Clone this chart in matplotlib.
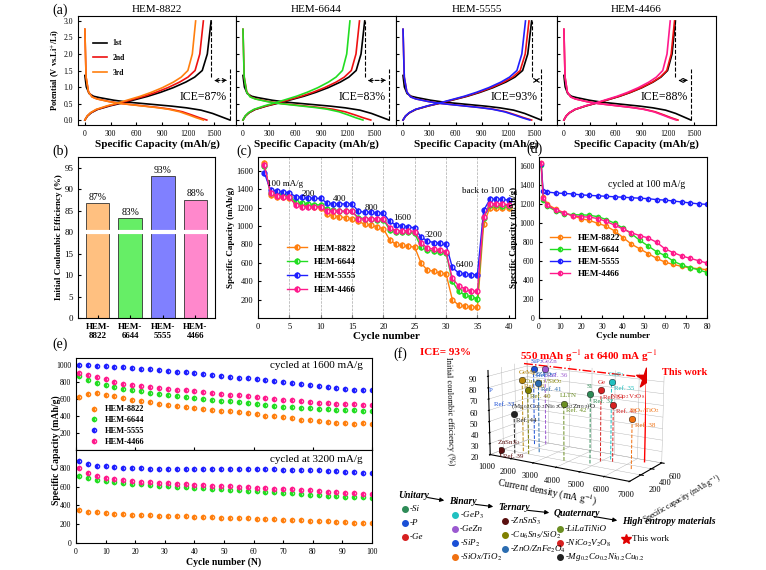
import numpy as np
import matplotlib
matplotlib.use("Agg")
import matplotlib.pyplot as plt

plt.rcParams['font.family'] = ['Liberation Serif', 'DejaVu Serif']
plt.rcParams['font.size'] = 6.5
plt.rcParams['mathtext.fontset'] = 'stix'

W, H = 766, 570
fig = plt.figure(figsize=(7.66, 5.70), dpi=100)
fig.patch.set_facecolor('white')

def rect(x0, y0, x1, y1):
    return [x0 / W, 1 - y1 / H, (x1 - x0) / W, (y1 - y0) / H]

# ---------------- data ----------------
samples = ['HEM-8822', 'HEM-6644', 'HEM-5555', 'HEM-4466']
main_colors = ['#ff7f0e', '#22dd22', '#1f1fff', '#ff1a8c']

# (a) voltage profile shapes (fraction of capacity -> V)
frac_d = [0, 0.01, 0.03, 0.06, 0.1, 0.2, 0.3, 0.4, 0.5, 0.6, 0.7, 0.8, 0.88, 0.94, 1.0]
v_d1 = [1.35, 1.0, 0.8, 0.72, 0.68, 0.6, 0.54, 0.5, 0.46, 0.42, 0.37, 0.3, 0.2, 0.1, 0.0]
v_dn = [2.75, 1.3, 0.85, 0.7, 0.64, 0.56, 0.5, 0.46, 0.42, 0.38, 0.33, 0.25, 0.15, 0.07, 0.0]
frac_c = [0, 0.02, 0.05, 0.1, 0.2, 0.3, 0.4, 0.5, 0.6, 0.7, 0.8, 0.87, 0.93, 0.97, 1.0]
v_c = [0.0, 0.12, 0.22, 0.32, 0.43, 0.52, 0.62, 0.72, 0.84, 0.98, 1.15, 1.3, 1.5, 2.0, 3.0]
cap_dis = {'HEM-8822': [1690, 1420, 1380], 'HEM-6644': [1680, 1470, 1380],
           'HEM-5555': [1580, 1470, 1450], 'HEM-4466': [1470, 1320, 1300]}
cap_chg = {'HEM-8822': [1470, 1380, 1290], 'HEM-6644': [1400, 1340, 1230],
           'HEM-5555': [1470, 1440, 1400], 'HEM-4466': [1290, 1280, 1230]}
ice_text = ['ICE=87%', 'ICE=83%', 'ICE=93%', 'ICE=88%']
cycle_labels = ['1st', '2nd', '3rd']

# (b)
ice_vals = [86.8, 83.3, 93.0, 87.5]
ice_pct = ['87%', '83%', '93%', '88%']
bar_colors = ['#ffc080', '#66ee66', '#8080ff', '#ff88cc']

# (c) rate performance
rate_cycles = list(range(1, 41))
rate = {
 'HEM-8822': [1680, 1340, 1320, 1310, 1300, 1250, 1230, 1220, 1210, 1200, 1130, 1110, 1100, 1090, 1080,
              1050, 1020, 1010, 990, 970, 850, 800, 790, 780, 770, 600, 520, 510, 490, 480,
              200, 140, 130, 120, 115, 1020, 1200, 1200, 1200, 1200],
 'HEM-6644': [1650, 1360, 1350, 1340, 1330, 1260, 1250, 1240, 1230, 1230, 1180, 1170, 1160, 1160, 1160,
              1090, 1080, 1080, 1070, 1070, 960, 940, 940, 930, 920, 770, 740, 730, 720, 710,
              400, 290, 250, 230, 210, 1090, 1230, 1230, 1220, 1220],
 'HEM-5555': [1580, 1390, 1380, 1370, 1360, 1320, 1310, 1300, 1300, 1300, 1250, 1240, 1240, 1240, 1240,
              1160, 1150, 1150, 1140, 1140, 1050, 1010, 1000, 990, 980, 880, 840, 820, 810, 800,
              550, 490, 480, 470, 470, 1170, 1290, 1290, 1290, 1280],
 'HEM-4466': [1660, 1360, 1330, 1320, 1310, 1230, 1210, 1210, 1210, 1210, 1160, 1160, 1160, 1160, 1160,
              1080, 1080, 1080, 1080, 1080, 980, 950, 950, 950, 940, 820, 760, 750, 740, 720,
              430, 350, 320, 290, 290, 1100, 1240, 1240, 1240, 1230],
}
rate_labels = ['100 mA/g', '200', '400', '800', '1600', '3200', '6400', 'back to 100']
rate_label_pos = [(1.5, 1440), (7, 1330), (12, 1270), (17, 1170), (21.5, 1060), (26.5, 880), (31.5, 550), (32.5, 1360)]

# (d) cycling at 100 mA/g
d_cycles = [1, 2, 4, 8, 12, 16, 20, 24, 28, 32, 36, 40, 44, 48, 52, 56, 60, 64, 68, 72, 76, 80]
d_vals = {
 'HEM-8822': [1640, 1280, 1200, 1150, 1110, 1080, 1050, 1030, 1000, 970, 920, 850, 780, 730, 680, 630, 590, 565, 545, 530, 520, 510],
 'HEM-6644': [1620, 1250, 1180, 1130, 1100, 1090, 1090, 1085, 1070, 1040, 1000, 950, 890, 820, 760, 700, 660, 600, 560, 530, 510, 480],
 'HEM-5555': [1630, 1340, 1330, 1320, 1315, 1310, 1300, 1295, 1290, 1285, 1280, 1275, 1270, 1265, 1260, 1250, 1245, 1235, 1225, 1215, 1205, 1200],
 'HEM-4466': [1640, 1270, 1190, 1140, 1110, 1080, 1070, 1065, 1050, 1020, 980, 940, 900, 870, 845, 800, 730, 690, 655, 630, 605, 580],
}

# (e) long cycling
e_cycles = list(range(1, 101, 3))
e_top = {
 'HEM-8822': [620, 660, 665, 650, 630, 610, 590, 575, 560, 545, 530, 515, 500, 490, 480, 470, 460, 455, 445, 435, 420, 405, 395, 385, 370, 355, 350, 340, 330, 320, 315, 305, 315, 310],
 'HEM-6644': [870, 820, 790, 760, 735, 715, 700, 690, 675, 660, 645, 630, 620, 610, 600, 590, 580, 570, 560, 550, 540, 530, 520, 510, 505, 495, 490, 485, 480, 475, 470, 465, 460, 460],
 'HEM-5555': [1000, 995, 990, 985, 975, 970, 965, 955, 950, 940, 930, 920, 910, 900, 890, 880, 870, 860, 850, 840, 830, 820, 810, 795, 785, 775, 765, 750, 740, 730, 720, 710, 700, 700],
 'HEM-4466': [900, 880, 860, 830, 800, 780, 765, 750, 740, 730, 720, 710, 700, 690, 680, 670, 660, 650, 640, 630, 620, 610, 600, 590, 585, 575, 565, 555, 550, 545, 540, 535, 530, 530],
}
e_bot = {
 'HEM-8822': [350, 335, 325, 315, 310, 305, 300, 298, 295, 292, 290, 287, 284, 280, 277, 274, 271, 268, 265, 262, 258, 255, 252, 249, 245, 242, 239, 235, 230, 225, 220, 215, 212, 210],
 'HEM-6644': [710, 690, 675, 660, 650, 640, 632, 625, 618, 612, 605, 600, 595, 590, 585, 578, 572, 567, 562, 558, 552, 545, 540, 535, 528, 522, 515, 510, 505, 500, 495, 490, 485, 480],
 'HEM-5555': [870, 840, 825, 815, 805, 800, 797, 795, 793, 792, 790, 790, 789, 789, 788, 788, 787, 787, 786, 786, 785, 784, 783, 782, 780, 778, 775, 772, 768, 764, 760, 755, 750, 748],
 'HEM-4466': [800, 740, 715, 695, 680, 668, 660, 652, 646, 640, 635, 631, 627, 622, 617, 612, 607, 603, 598, 594, 590, 585, 580, 575, 570, 565, 560, 553, 546, 540, 535, 530, 525, 522],
}

# (f) 3D comparison
f_names = ['P', 'SiP$_2$', 'GeZn', 'GeMg', 'ZZFO', 'Cu$_6$Sn$_5$/SiO$_2$',
           '(Mg$_{0.2}$Co$_{0.2}$Ni$_{0.2}$Cu$_{0.2}$Zn$_{0.2}$)O', 'ZnSnS$_3$', 'LLTN', 'Ge', 'GeP$_3$',
           'Si', 'NiCo$_2$V$_2$O$_8$', 'SiO$_x$/TiO$_2$']
f_refs = ['Ref. 33', 'Ref. 37', 'Ref. 36', 'Ref. 36', 'Ref. 41', 'Ref. 40', 'Ref. 44', 'Ref. 39',
          'Ref. 42', 'Ref. 34', 'Ref. 35', 'Ref. 32', 'Ref. 43', 'Ref. 38']
f_current = [1000, 1600, 2000, 1800, 2400, 2200, 1700, 1500, 3800, 5000, 5200, 4800, 5400, 6400]
f_capacity = [50, 500, 550, 250, 300, 200, 150, 0, 200, 350, 450, 250, 400, 300]
f_ice = [70, 90, 90, 85, 83, 78, 56, 26, 70, 82, 88, 80, 70, 63]
f_colors = ['#1a4fd6', '#1a4fd6', '#9b59d0', '#b8860b', '#2b6cb0', '#808000', '#222222', '#5a1010',
            '#6b8e23', '#d62020', '#20c0c0', '#2e8b57', '#d62020', '#f07010']
this_work = (6400, 550, 93)

# ---------------- (a) ----------------
ax_a_x = [(78, 236), (236, 396), (396, 557), (557, 716)]
for i, s in enumerate(samples):
    ax = fig.add_axes(rect(ax_a_x[i][0], 16, ax_a_x[i][1], 125))
    cols = ['black', '#ee1111', main_colors[i]]
    for k in range(3):
        vd = v_d1 if k == 0 else v_dn
        ax.plot(np.array(frac_d) * cap_dis[s][k], vd, color=cols[k], lw=1.2,
                label=cycle_labels[k])
        ax.plot(np.array(frac_c) * cap_chg[s][k], v_c, color=cols[k], lw=1.2)
    c1, d1 = cap_chg[s][0], cap_dis[s][0]
    ax.plot([c1, c1], [1.3, 3.0], 'k--', lw=0.8)
    ax.plot([d1, d1], [0, 1.55], 'k--', lw=0.8)
    ax.annotate('', xy=(c1, 1.2), xytext=(d1, 1.2),
                arrowprops=dict(arrowstyle='<->', ls='--', lw=0.8, color='k'))
    ax.text(d1 - 40, 0.62, ice_text[i], ha='right', fontsize=8.5)
    ax.set_xlim(-80, 1760)
    ax.set_ylim(-0.15, 3.15)
    ax.set_xticks(range(0, 1501, 300))
    ax.set_yticks(np.arange(0, 3.01, 0.5))
    ax.tick_params(direction='in', labelsize=5.5, length=2)
    ax.set_title(s, fontsize=8, pad=3)
    ax.set_xlabel('Specific Capacity (mAh/g)', fontsize=8, fontweight='bold', labelpad=1)
    if i == 0:
        ax.set_ylabel('Potential (V vs.Li$^{+}$/Li)', fontsize=6, fontweight='bold', labelpad=1)
        ax.legend(loc='upper left', bbox_to_anchor=(0.05, 0.85), frameon=False,
                  handlelength=1.8, labelspacing=0.9, prop={'weight': 'bold', 'size': 5.5})
    else:
        ax.set_yticklabels([])
fig.text(52 / W, 1 - 14 / H, '(a)', fontsize=10)

# ---------------- (b) ----------------
axb = fig.add_axes(rect(78, 157, 215, 318))
def tb(y):
    return y if y <= 20 else y - 60
bx = np.arange(4)
axb.bar(bx, [tb(v) for v in ice_vals], width=0.72, color=bar_colors, edgecolor='#333333', lw=0.6)
for x, v, t in zip(bx, ice_vals, ice_pct):
    axb.text(x, tb(v) + 0.8, t, ha='center', fontsize=7)
axb.axhline(20, color='white', lw=3)
axb.set_ylim(0, 37.5)
axb.set_xlim(-0.6, 3.6)
axb.set_yticks([0, 5, 10, 15, 20, 25, 30, 35])
axb.set_yticklabels(['0', '5', '10', '15', '80', '85', '90', '95'])
axb.set_xticks(bx)
axb.set_xticklabels(['HEM-\n' + s.split('-')[1] for s in samples], fontsize=6.5, fontweight='bold')
axb.tick_params(direction='in', labelsize=6.5, length=2)
axb.set_ylabel('Initial Coulombic Efficiency (%)', fontsize=6.5, fontweight='bold', labelpad=1)
fig.text(52 / W, 1 - 155 / H, '(b)', fontsize=10)

# ---------------- (c) ----------------
axc = fig.add_axes(rect(258, 157, 515, 318))
for x in range(5, 40, 5):
    axc.axvline(x, color='#aaaaaa', ls='--', lw=0.5)
for s, c in zip(samples, main_colors):
    axc.plot(rate_cycles, rate[s], '-o', color=c, ms=3.5, lw=1, fillstyle='left',
             markerfacecoloralt='white', label=s)
for t, (x, y) in zip(rate_labels, rate_label_pos):
    axc.text(x, y, t, fontsize=6.5)
axc.set_xlim(0, 41)
axc.set_ylim(0, 1750)
axc.set_xticks(range(0, 41, 5))
axc.set_yticks(range(200, 1601, 200))
axc.tick_params(direction='in', labelsize=6, length=2)
axc.set_xlabel('Cycle number', fontsize=8, fontweight='bold', labelpad=1)
axc.set_ylabel('Specific Capacity (mAh/g)', fontsize=6.5, fontweight='bold', labelpad=1)
axc.legend(loc='lower left', bbox_to_anchor=(0.08, 0.1), frameon=False,
           prop={'weight': 'bold', 'size': 6.5}, handlelength=2.2, labelspacing=0.6)
fig.text(236 / W, 1 - 155 / H, '(c)', fontsize=10)

# ---------------- (d) ----------------
axd = fig.add_axes(rect(539, 157, 707, 318))
for s, c in zip(samples, main_colors):
    axd.plot(d_cycles, d_vals[s], '-o', color=c, ms=3, lw=1, fillstyle='left',
             markerfacecoloralt='white', label=s)
axd.text(33, 1380, 'cycled at 100 mA/g', fontsize=7)
axd.set_xlim(0, 80)
axd.set_ylim(0, 1700)
axd.set_xticks(range(0, 81, 10))
axd.set_yticks(range(0, 1601, 200))
axd.tick_params(direction='in', labelsize=5.5, length=2)
axd.set_xlabel('Cycle number', fontsize=6.5, fontweight='bold', labelpad=1)
axd.set_ylabel('Specific Capacity (mAh/g)', fontsize=6.5, fontweight='bold', labelpad=1)
axd.legend(loc='lower left', bbox_to_anchor=(0.02, 0.2), frameon=False,
           prop={'weight': 'bold', 'size': 6.5}, handlelength=2.2, labelspacing=0.4)
fig.text(526 / W, 1 - 153 / H, '(d)', fontsize=10)

# ---------------- (e) ----------------
axe1 = fig.add_axes(rect(76, 358, 372, 450))
axe2 = fig.add_axes(rect(76, 450, 372, 543))
for s, c in zip(samples, main_colors):
    axe1.plot(e_cycles, e_top[s], 'o', color=c, ms=3, fillstyle='left',
              markerfacecoloralt='white', label=s, lw=0)
    axe2.plot(e_cycles, e_bot[s], 'o', color=c, ms=3, fillstyle='left',
              markerfacecoloralt='white', lw=0)
axe1.text(97, 960, 'cycled at 1600 mA/g', fontsize=8, ha='right')
axe2.text(97, 860, 'cycled at 3200 mA/g', fontsize=8, ha='right')
for ax in (axe1, axe2):
    ax.set_xlim(0, 100)
    ax.tick_params(direction='in', labelsize=5.5, length=2)
axe1.set_ylim(0, 1080)
axe1.set_yticks(range(200, 1001, 200))
axe1.set_xticklabels([])
axe2.set_ylim(0, 990)
axe2.set_yticks(range(0, 801, 200))
axe2.set_xticks(range(0, 101, 10))
axe2.set_xlabel('Cycle number (N)', fontsize=7, fontweight='bold', labelpad=1)
fig.text(56 / W, 1 - 450 / H, 'Specific Capacity (mAh/g)', rotation=90, va='center', ha='center',
         fontsize=7, fontweight='bold')
axe1.legend(loc='lower left', bbox_to_anchor=(0.02, -0.04), frameon=False,
            prop={'weight': 'bold', 'size': 6}, handlelength=1, labelspacing=0.35)
fig.text(52 / W, 1 - 348 / H, '(e)', fontsize=10)

# ---------------- (f) ----------------
axf = fig.add_axes(rect(385, 345, 760, 492), projection='3d')
axf.set_facecolor('none')
for x, y, z, c, n, r in zip(f_current, f_capacity, f_ice, f_colors, f_names, f_refs):
    axf.plot([x, x], [y, y], [20, z], ls='--', color=c, lw=0.7)
    axf.scatter([x], [y], [z], color=c, s=22, depthshade=False, edgecolors='k', linewidths=0.3)
    axf.text(x - 150, y, z + 5, n, color=c, fontsize=5)
    axf.text(x + 100, y, z - 7, r, color=c, fontsize=5)
tx, ty, tz = this_work
axf.plot([tx, tx], [ty, ty], [20, tz], color='red', lw=1)
axf.scatter([tx], [ty], [tz], marker='*', color='#e00000', s=220, depthshade=False)
axf.plot([1000, tx], [ty, ty], [tz, tz], color='red', ls='-.', lw=1)
axf.set_xlim(1000, 7000)
axf.set_ylim(0, 600)
axf.set_zlim(20, 95)
axf.set_xticks(range(1000, 7001, 1000))
axf.set_yticks([200, 400, 600])
axf.set_zticks(range(20, 91, 10))
axf.tick_params(labelsize=6, pad=-3)
axf.set_xlabel('Current density (mA g$^{-1}$)', fontsize=7, labelpad=-8)
axf.set_ylabel('Specific capacity (mAh g$^{-1}$)', fontsize=5.5, labelpad=-8)
axf.set_zlabel('Initial coulombic efficiency (%)', fontsize=6, labelpad=-8)
axf.view_init(elev=14, azim=-58)
axf.zaxis.set_ticks_position('lower')
axf.zaxis.set_label_position('lower')
axf.set_box_aspect((2.4, 1.0, 1.3), zoom=1.3)
for pane in (axf.xaxis, axf.yaxis, axf.zaxis):
    pane.set_pane_color((1, 1, 1, 0))
    pane._axinfo['grid']['linewidth'] = 0.3
fig.text(393 / W, 1 - 358 / H, '(f)', fontsize=10)
fig.text(420 / W, 1 - 355 / H, 'ICE= 93%', color='red', fontsize=8, fontweight='bold')
fig.text(520 / W, 1 - 360 / H, '550 mAh g$^{-1}$ at 6400 mA g$^{-1}$', color='red', fontsize=8,
         fontweight='bold')
fig.text(662 / W, 1 - 375 / H, 'This work', color='red', fontsize=7.5, fontweight='bold')

# legend of (f)
heads = [('Unitary', 398, 495), ('Binary', 449, 502), ('Ternary', 498, 508),
         ('Quaternary', 554, 514), ('High entropy materials', 622, 522)]
for i, (t, x, y) in enumerate(heads):
    tobj = fig.text(x / W, 1 - y / H, t, fontsize=7, fontweight='bold', style='italic', va='center')
    if i < len(heads) - 1:
        nx, ny = heads[i + 1][1], heads[i + 1][2]
        fig.add_artist(matplotlib.patches.FancyArrowPatch(
            ((x + 3.4 * len(t) + 3) / W, 1 - (y + 2) / H), ((nx - 2) / W, 1 - (ny - 1) / H),
            transform=fig.transFigure, arrowstyle='-|>', mutation_scale=6, lw=0.8, color='k'))
groups = [
    (405, [('Si', '#2e8b57', 509), ('P', '#1a4fd6', 523), ('Ge', '#d62020', 537)]),
    (455, [('GeP$_3$', '#20c0c0', 515), ('GeZn', '#9b59d0', 529), ('SiP$_2$', '#1a4fd6', 543),
           ('SiOx/TiO$_2$', '#f07010', 557)]),
    (505, [('ZnSnS$_3$', '#5a1010', 521), ('Cu$_6$Sn$_5$/SiO$_2$', '#808000', 535),
           ('ZnO/ZnFe$_2$O$_4$', '#2b6cb0', 549)]),
    (560, [('LiLaTiNiO', '#6b8e23', 529), ('NiCo$_2$V$_2$O$_8$', '#d62020', 543),
           ('Mg$_{0.2}$Co$_{0.2}$Ni$_{0.2}$Cu$_{0.2}$', '#222222', 557)]),
]
for x, items in groups:
    for t, c, y in items:
        fig.lines.append(matplotlib.lines.Line2D([x / W], [1 - y / H], marker='o', color=c, ms=4,
                                                 transform=fig.transFigure))
        fig.text((x + 5) / W, 1 - y / H, '-' + t, fontsize=6.5, style='italic', va='center')
fig.lines.append(matplotlib.lines.Line2D([626 / W], [1 - 539 / H], marker='*', color='#e00000', ms=7,
                                         transform=fig.transFigure))
fig.text(632 / W, 1 - 539 / H, 'This work', fontsize=6.5, va='center')

fig.savefig('out.png', dpi=100)
